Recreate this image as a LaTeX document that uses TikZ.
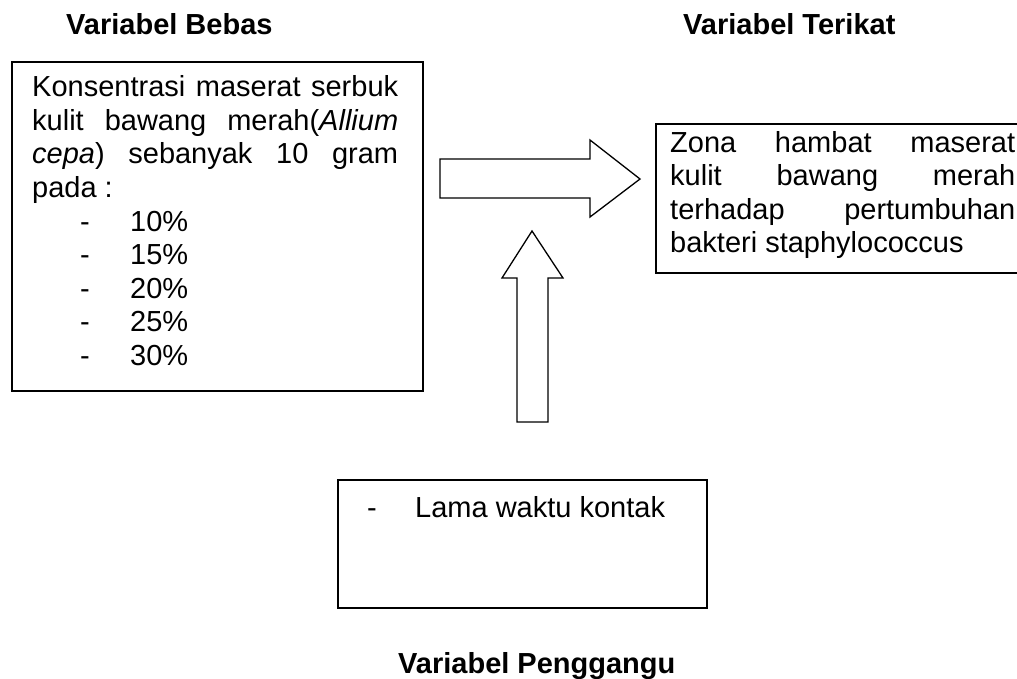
\documentclass[tikz,border=0pt]{standalone}
\usepackage{fontspec}
\setmainfont{Liberation Sans}
\begin{document}
\begin{tikzpicture}[x=1pt,y=-1pt,
  txt/.style={anchor=base west, inner sep=0pt, font=\fontsize{29}{33.5}\selectfont},
  titletxt/.style={anchor=base west, inner sep=0pt, font=\bfseries\fontsize{29}{33.5}\selectfont},
  framebox/.style={draw, line width=1.6pt, inner sep=0pt, anchor=north west},
  blockarrow/.style={draw, line width=1.3pt, line join=miter, fill=white}]
\clip (0,0) rectangle (1017,679);
\useasboundingbox (0,0) rectangle (1017,679);
% titles
\node[titletxt] (tbebas) at (66,35) {Variabel Bebas};
\node[titletxt] (tterikat) at (683,35) {Variabel Terikat};
\node[titletxt] (tpeng) at (398,673) {Variabel Penggangu};
% boxes
\node[framebox, minimum width=411pt, minimum height=329pt] (bebas) at (11,61) {};
\node[framebox, minimum width=400pt, minimum height=149pt] (terikat) at (655,123) {};
\node[framebox, minimum width=369pt, minimum height=128pt] (peng) at (337,479) {};
% left box text
\node[txt] (b1) at (32,97) {\makebox[366pt][s]{Konsentrasi maserat serbuk}};
\node[txt] (b2) at (32,130.5) {\makebox[366pt][s]{kulit bawang merah(\textit{Allium}}};
\node[txt] (b3) at (32,164) {\makebox[366pt][s]{\textit{cepa}) sebanyak 10 gram}};
\node[txt] (b4) at (32,197.5) {pada :};
\node[txt] (d1) at (80,231) {-};   \node[txt] (p1) at (130,231) {10\%};
\node[txt] (d2) at (80,264.5) {-}; \node[txt] (p2) at (130,264.5) {15\%};
\node[txt] (d3) at (80,298) {-};   \node[txt] (p3) at (130,298) {20\%};
\node[txt] (d4) at (80,331.5) {-}; \node[txt] (p4) at (130,331.5) {25\%};
\node[txt] (d5) at (80,365) {-};   \node[txt] (p5) at (130,365) {30\%};
% right box text
\node[txt] (r1) at (670,153) {\makebox[345pt][s]{Zona hambat maserat}};
\node[txt] (r2) at (670,186) {\makebox[345pt][s]{kulit bawang merah}};
\node[txt] (r3) at (670,219) {\makebox[345pt][s]{terhadap pertumbuhan}};
\node[txt] (r4) at (670,252) {bakteri staphylococcus};
% bottom box text
\node[txt] (pd) at (367,517) {-};
\node[txt] (pl) at (415,517) {Lama waktu kontak};
% block arrows
\draw[blockarrow] (440,159) -- (590,159) -- (590,140) -- (640,179) -- (590,217) -- (590,198) -- (440,198) -- cycle;
\draw[blockarrow] (517,422) -- (517,278) -- (502,278) -- (532,231) -- (563,278) -- (548,278) -- (548,422) -- cycle;
\end{tikzpicture}
\end{document}
